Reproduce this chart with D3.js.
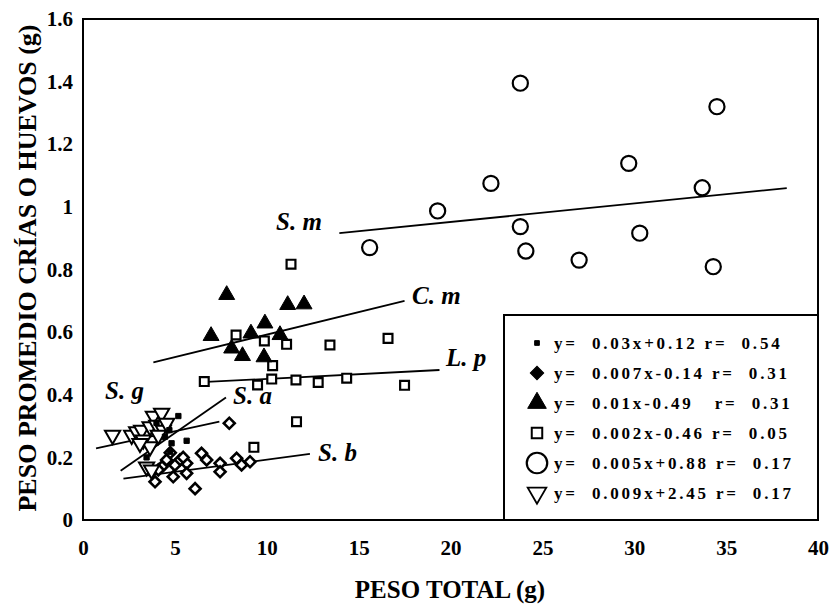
<!DOCTYPE html>
<html lang="es">
<head>
<meta charset="utf-8">
<title>Peso promedio crías o huevos</title>
<script src="https://cdn.jsdelivr.net/npm/d3@7"></script>
<style>
  body { margin: 0; background: #fff; }
  text { font-family: "Liberation Serif", "Times New Roman", serif; font-weight: bold; fill: #000; }
</style>
</head>
<body>
<div id="chart"></div>
<script>
// --- data (x = peso total g, y = peso promedio g)
var xTicks = [0, 5, 10, 15, 20, 25, 30, 35, 40];
var yTicks = [0, 0.2, 0.4, 0.6, 0.8, 1, 1.2, 1.4, 1.6];

var sM = [[23.8,1.395],[34.5,1.32],[29.7,1.139],[22.2,1.075],[33.7,1.061],[19.3,0.987],
          [23.8,0.937],[30.3,0.916],[15.6,0.87],[24.1,0.859],[27.0,0.83],[34.3,0.809]];
var cM = [[7.82,0.719],[11.14,0.687],[12.03,0.689],[9.9,0.628],[6.97,0.588],[9.14,0.596],
          [10.72,0.591],[8.09,0.548],[8.68,0.524],[9.85,0.52]];
var lP = [[11.32,0.817],[8.33,0.591],[9.87,0.572],[11.08,0.561],[13.44,0.559],[16.6,0.58],
          [10.32,0.493],[6.6,0.442],[9.5,0.431],[10.27,0.45],[11.59,0.447],[12.8,0.439],
          [14.35,0.453],[17.5,0.43],[11.62,0.314],[9.3,0.232]];
var sB = [[7.96,0.309],[6.45,0.213],[6.73,0.192],[7.46,0.181],[7.46,0.154],[8.36,0.197],
          [8.63,0.176],[9.09,0.186],[5.64,0.181],[5.64,0.149],[6.1,0.1],[3.92,0.122],
          [4.91,0.138],[4.55,0.192],[5.28,0.192],[4.3,0.17],[4.75,0.215],[5.0,0.175],
          [5.45,0.2],[4.1,0.16]];
var sA = [[5.19,0.332],[5.64,0.253],[4.82,0.245],[4.73,0.218],[3.46,0.2],[4.7,0.287],
          [4.46,0.266],[4.0,0.31]];
var sG = [[3.83,0.332],[4.28,0.341],[1.61,0.271],[2.65,0.271],[2.92,0.282],[3.19,0.287],
          [3.65,0.298],[4.01,0.303],[4.37,0.287],[3.28,0.256],[3.65,0.234],[3.46,0.17],
          [3.73,0.16],[3.1,0.245],[4.1,0.271],[4.55,0.309]];

// fitted lines, drawn as [x1, y1, x2, y2]
var smLine = [13.95, 0.916, 38.3, 1.06];
var cmLine = [3.83, 0.503, 17.5, 0.70];
var lpLine = [6.45, 0.44, 19.4, 0.479];
var sbLine = [2.2, 0.132, 12.35, 0.211];
var saLine = [2.05, 0.157, 7.78, 0.391];
var sgLine = [0.71, 0.229, 7.42, 0.314];

var speciesNames = ['S. m', 'C. m', 'L. p', 'S. g', 'S. a', 'S. b'];
var legendLabels = [
  'y=  0.03x+0.12 r=  0.54',
  'y=  0.007x-0.14 r=  0.31',
  'y=  0.01x-0.49   r=  0.31',
  'y=  0.002x-0.46 r=  0.05',
  'y=  0.005x+0.88 r=  0.17',
  'y=  0.009x+2.45 r=  0.17'
];

(function(d3) {
  'use strict';

  var width = 834, height = 606;
  var left = 83, right = 818, top = 19, bottom = 520;

  var svg = d3.select('#chart').append('svg')
    .attr('width', width).attr('height', height);

  var x = d3.scaleLinear().domain([0, 40]).range([left, right]);
  var y = d3.scaleLinear().domain([0, 1.6]).range([bottom, top]);

  // frame
  svg.append('path')
    .attr('d', 'M' + left + ',' + top + 'H' + right + 'V' + bottom + 'H' + left + 'Z')
    .attr('fill', 'none').attr('stroke', '#000').attr('stroke-width', 2);

  // tick labels (no tick marks in the original)
  var xAxis = d3.axisBottom(x).tickValues(xTicks).tickSize(0).tickPadding(20)
    .tickFormat(d3.format('d'));
  svg.append('g').attr('transform', 'translate(0,' + bottom + ')').call(xAxis)
    .call(function(g) { g.select('.domain').remove(); })
    .selectAll('text').style('font-size', '21px').style('font-family', '"Liberation Serif", serif')
    .style('font-weight', 'bold');

  var yAxis = d3.axisLeft(y).tickValues(yTicks).tickSize(0).tickPadding(10)
    .tickFormat(function(d) { return d === 0 || d === 1 ? d3.format('d')(d) : d3.format('.1f')(d); });
  svg.append('g').attr('transform', 'translate(' + left + ',0)').call(yAxis)
    .call(function(g) { g.select('.domain').remove(); })
    .selectAll('text').style('font-size', '21px').style('font-family', '"Liberation Serif", serif')
    .style('font-weight', 'bold');

  // axis titles
  svg.append('text').attr('x', 450).attr('y', 598).attr('text-anchor', 'middle')
    .style('font-size', '25px').text('PESO TOTAL (g)');
  svg.append('text').attr('transform', 'translate(36,268) rotate(-90)').attr('text-anchor', 'middle')
    .style('font-size', '26px').text('PESO PROMEDIO CRÍAS O HUEVOS (g)');

  // fitted lines
  var lines = [smLine, cmLine, lpLine, sbLine, saLine, sgLine];
  svg.selectAll('line.fit').data(lines).enter().append('line')
    .attr('class', 'fit')
    .attr('x1', function(d) { return x(d[0]); })
    .attr('y1', function(d) { return y(d[1]); })
    .attr('x2', function(d) { return x(d[2]); })
    .attr('y2', function(d) { return y(d[3]); })
    .attr('stroke', '#000').attr('stroke-width', 1.8);

  // marker styles
  var styles = {
    sA: { type: d3.symbolSquare, size: 28, fill: '#000', stroke: '#000', sw: 1, rot: 0 },
    sB: { type: d3.symbolSquare, size: 60, fill: '#fff', stroke: '#000', sw: 2.6, rot: 45 },
    cM: { type: d3.symbolTriangle, size: 110, fill: '#000', stroke: '#000', sw: 1, rot: 0 },
    lP: { type: d3.symbolSquare, size: 78, fill: '#fff', stroke: '#000', sw: 2.2, rot: 0 },
    sM: { type: d3.symbolCircle, size: 180, fill: '#fff', stroke: '#000', sw: 2.2, rot: 0 },
    sG: { type: d3.symbolTriangle, size: 100, fill: '#fff', stroke: '#000', sw: 2, rot: 180 }
  };

  function drawSeries(data, st) {
    var sym = d3.symbol().type(st.type).size(st.size);
    svg.append('g').selectAll('path').data(data).enter().append('path')
      .attr('d', sym)
      .attr('transform', function(d) {
        return 'translate(' + x(d[0]) + ',' + y(d[1]) + ') rotate(' + st.rot + ')';
      })
      .attr('fill', st.fill).attr('stroke', st.stroke).attr('stroke-width', st.sw);
  }

  drawSeries(sM, styles.sM);
  drawSeries(lP, styles.lP);
  drawSeries(cM, styles.cM);
  drawSeries(sB, styles.sB);
  drawSeries(sG, styles.sG);
  drawSeries(sA, styles.sA);

  // species labels
  var labelPos = [[276, 230], [412, 304], [446, 366], [105, 399], [233, 404], [318, 461]];
  svg.selectAll('text.sp').data(speciesNames).enter().append('text')
    .attr('class', 'sp')
    .attr('x', function(d, i) { return labelPos[i][0]; })
    .attr('y', function(d, i) { return labelPos[i][1]; })
    .style('font-size', '25px').style('font-style', 'italic')
    .text(function(d) { return d; });

  // legend
  var lg = svg.append('g');
  lg.append('path')
    .attr('d', 'M818,315H504V520')
    .attr('fill', 'none').attr('stroke', '#000').attr('stroke-width', 2);

  var legendStyles = [
    { type: d3.symbolSquare, size: 22, fill: '#000', sw: 1, rot: 0 },
    { type: d3.symbolSquare, size: 90, fill: '#000', sw: 1, rot: 45 },
    { type: d3.symbolTriangle, size: 150, fill: '#000', sw: 1, rot: 0 },
    { type: d3.symbolSquare, size: 110, fill: '#fff', sw: 2, rot: 0 },
    { type: d3.symbolCircle, size: 330, fill: '#fff', sw: 2.2, rot: 0 },
    { type: d3.symbolTriangle, size: 150, fill: '#fff', sw: 1.8, rot: 180 }
  ];

  var rows = lg.selectAll('g.row').data(legendLabels).enter().append('g')
    .attr('class', 'row')
    .attr('transform', function(d, i) { return 'translate(0,' + (343 + i * 30) + ')'; });

  rows.append('path')
    .attr('d', function(d, i) { return d3.symbol().type(legendStyles[i].type).size(legendStyles[i].size)(); })
    .attr('transform', function(d, i) { return 'translate(537,0) rotate(' + legendStyles[i].rot + ')'; })
    .attr('fill', function(d, i) { return legendStyles[i].fill; })
    .attr('stroke', '#000')
    .attr('stroke-width', function(d, i) { return legendStyles[i].sw; });

  rows.append('text')
    .attr('x', 554).attr('y', 6)
    .attr('xml:space', 'preserve')
    .style('white-space', 'pre')
    .style('font-size', '17px')
    .style('letter-spacing', '2.8px')
    .text(function(d) { return d; });

})(window.d3);
</script>
</body>
</html>
